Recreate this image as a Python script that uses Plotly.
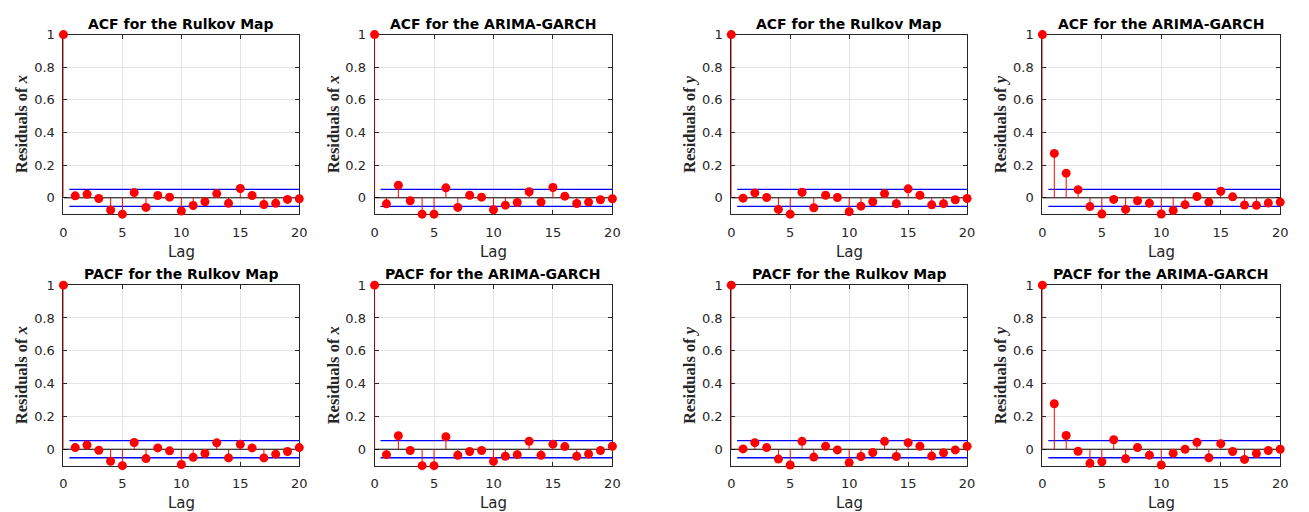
import plotly.graph_objects as go
from plotly.subplots import make_subplots

lags = list(range(21))

acf_rulkov_x = [1, 0.012, 0.022, -0.004, -0.075, -0.100, 0.032, -0.059, 0.014, 0.004, -0.081,
                -0.047, -0.024, 0.026, -0.034, 0.057, 0.014, -0.041, -0.034, -0.010, -0.006]
acf_garch_x = [1, -0.037, 0.077, -0.018, -0.100, -0.100, 0.061, -0.059, 0.016, 0.004, -0.073,
               -0.045, -0.029, 0.037, -0.026, 0.063, 0.010, -0.035, -0.026, -0.012, -0.006]
acf_rulkov_y = [1, -0.002, 0.030, 0.002, -0.071, -0.100, 0.034, -0.061, 0.016, 0.002, -0.085,
                -0.051, -0.024, 0.026, -0.036, 0.055, 0.016, -0.043, -0.036, -0.012, -0.004]
acf_garch_y = [1, 0.272, 0.151, 0.050, -0.054, -0.099, -0.010, -0.071, -0.018, -0.034, -0.099,
               -0.077, -0.042, 0.008, -0.026, 0.040, 0.006, -0.044, -0.046, -0.032, -0.026]
pacf_rulkov_x = [1, 0.010, 0.026, -0.006, -0.073, -0.100, 0.041, -0.057, 0.008, -0.010, -0.093,
                 -0.049, -0.026, 0.039, -0.053, 0.030, 0.008, -0.053, -0.030, -0.014, 0.010]
pacf_garch_x = [1, -0.033, 0.082, -0.008, -0.100, -0.100, 0.076, -0.037, -0.014, -0.008, -0.074,
                -0.043, -0.033, 0.049, -0.037, 0.031, 0.016, -0.043, -0.029, -0.008, 0.018]
pacf_rulkov_y = [1, 0.002, 0.040, 0.010, -0.060, -0.096, 0.048, -0.048, 0.018, -0.004, -0.082,
                 -0.044, -0.020, 0.048, -0.044, 0.040, 0.018, -0.042, -0.022, -0.004, 0.018]
pacf_garch_y = [1, 0.277, 0.084, -0.012, -0.086, -0.076, 0.058, -0.058, 0.010, -0.036, -0.096,
                -0.024, 0.000, 0.042, -0.052, 0.034, -0.014, -0.062, -0.026, -0.008, 0.000]

conf_bound = 0.052

titles = ["ACF for the Rulkov Map", "ACF for the ARIMA-GARCH",
          "ACF for the Rulkov Map", "ACF for the ARIMA-GARCH",
          "PACF for the Rulkov Map", "PACF for the ARIMA-GARCH",
          "PACF for the Rulkov Map", "PACF for the ARIMA-GARCH"]
ylabels = ["Residuals of <i>x</i>", "Residuals of <i>x</i>",
           "Residuals of <i>y</i>", "Residuals of <i>y</i>"] * 2
series = [acf_rulkov_x, acf_garch_x, acf_rulkov_y, acf_garch_y,
          pacf_rulkov_x, pacf_garch_x, pacf_rulkov_y, pacf_garch_y]

W, H = 1309, 512
xdom_px = [(60, 298), (374, 614), (734, 972), (1048, 1288)]
ydom_px = [(28, 210), (282, 465)]

fig = make_subplots(rows=2, cols=4)

TXT = "#262626"
SANS = "DejaVu Sans"
for i, vals in enumerate(series):
    r, c = i // 4, i % 4
    row, col = r + 1, c + 1
    # zero line
    fig.add_trace(go.Scatter(x=[lags[0], lags[-1]], y=[0, 0], mode="lines",
                             line=dict(color="black", width=1), showlegend=False,
                             hoverinfo="skip"), row=row, col=col)
    # confidence bounds
    for b in (conf_bound, -conf_bound):
        fig.add_trace(go.Scatter(x=[0.5, lags[-1]], y=[b, b], mode="lines",
                                 line=dict(color="#0000FF", width=1.3), showlegend=False,
                                 hoverinfo="skip"), row=row, col=col)
    # stems
    sx, sy = [], []
    for l, v in zip(lags, vals):
        sx += [l, l, None]
        sy += [0, v, None]
    fig.add_trace(go.Scatter(x=sx, y=sy, mode="lines", line=dict(color="#FF0000", width=1),
                             showlegend=False, hoverinfo="skip", cliponaxis=False),
                  row=row, col=col)
    fig.add_trace(go.Scatter(x=lags, y=vals, mode="markers",
                             marker=dict(color="#FF0000", size=9, line=dict(width=0)),
                             cliponaxis=False, showlegend=False), row=row, col=col)

    x0, x1 = xdom_px[c]
    y0, y1 = ydom_px[r]
    idx = "" if i == 0 else str(i + 1)
    fig.layout["xaxis" + idx].update(
        domain=[x0 / W, x1 / W], range=[0, 20], tickvals=[0, 5, 10, 15, 20],
        showgrid=True, gridcolor="#e4e4e4", gridwidth=1, zeroline=False,
        showline=True, linecolor=TXT, linewidth=1, mirror="ticks",
        ticks="inside", ticklen=4, tickcolor=TXT, ticklabelstandoff=6,
        layer="below traces",
        tickfont=dict(family=SANS, size=13, color=TXT))
    fig.layout["yaxis" + idx].update(
        domain=[1 - y1 / H, 1 - y0 / H], range=[-0.1, 1],
        tickvals=[0, 0.2, 0.4, 0.6, 0.8, 1], ticktext=["0", "0.2", "0.4", "0.6", "0.8", "1"],
        showgrid=True, gridcolor="#e4e4e4", gridwidth=1, zeroline=False,
        showline=True, linecolor=TXT, linewidth=1, mirror="ticks",
        ticks="inside", ticklen=4, tickcolor=TXT, ticklabelstandoff=5,
        layer="below traces",
        tickfont=dict(family=SANS, size=13, color=TXT))

    cx = (x0 + x1) / 2 / W
    # title
    fig.add_annotation(x=cx, y=1 - (y0 - 11) / H, xref="paper", yref="paper",
                       text="<b>" + titles[i] + "</b>", showarrow=False,
                       font=dict(family=SANS, size=14, color="black"),
                       xanchor="center", yanchor="middle")
    # x label
    fig.add_annotation(x=cx, y=1 - (y1 + 38) / H, xref="paper", yref="paper",
                       text="Lag", showarrow=False,
                       font=dict(family=SANS, size=15, color=TXT),
                       xanchor="center", yanchor="middle")
    # y label
    fig.add_annotation(x=(x0 - 42) / W, y=1 - (y0 + y1) / 2 / H, xref="paper", yref="paper",
                       text="<b>" + ylabels[i] + "</b>", showarrow=False, textangle=-90,
                       font=dict(family="Liberation Serif", size=16.5, color=TXT),
                       xanchor="center", yanchor="middle")

fig.update_layout(width=W, height=H, margin=dict(l=0, r=0, t=0, b=0),
                  paper_bgcolor="white", plot_bgcolor="white", showlegend=False)

fig.write_html("out.html")
